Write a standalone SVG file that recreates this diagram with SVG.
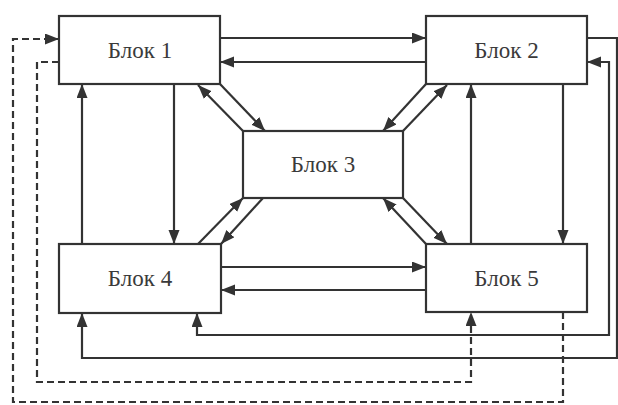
<svg xmlns="http://www.w3.org/2000/svg" width="618" height="405" viewBox="0 0 618 405">
<defs>
<marker id="ah" markerUnits="userSpaceOnUse" markerWidth="15" markerHeight="12" refX="14" refY="5.5" orient="auto-start-reverse">
<path d="M0,0 L14,5.5 L0,11 z" fill="#333"/>
</marker>
<style>
.box{fill:#fff;stroke:#333;stroke-width:2.2}
.lbl{font-family:"Liberation Serif","Times New Roman",serif;font-size:23px;fill:#3a3a3a;text-anchor:middle}
.c{fill:none;stroke:#333;stroke-width:2.2}
.a{marker-end:url(#ah)}
.s{marker-start:url(#ah)}
.d{stroke-dasharray:7,4}
</style>
</defs>
<rect width="618" height="405" fill="#fff"/>
<g id="connectors">
<path class="c a" d="M220,38 H426"/>
<path class="c a" d="M426,62 H220"/>
<path class="c a" d="M221,267 H426"/>
<path class="c a" d="M426,290 H221"/>
<path class="c a" d="M82,244 V84"/>
<path class="c a" d="M174,84 V244"/>
<path class="c a" d="M471,244 V84"/>
<path class="c a" d="M563,84 V244"/>
<path class="c a" d="M243,131 L198,85"/>
<path class="c a" d="M220,84 L265,131"/>
<path class="c a" d="M426,84 L383,131"/>
<path class="c a" d="M403,131 L447,85"/>
<path class="c a" d="M198,244 L243,198"/>
<path class="c a" d="M263,198 L221,244"/>
<path class="c a" d="M426,244 L383,198"/>
<path class="c a" d="M403,198 L447,244"/>
<path class="c a" d="M587,38 H617 V358 H82 V313"/>
<path class="c a s" d="M197,313 V335 H609 V62 H587"/>
<path class="c d a" d="M563,312 V402 H13 V39 H59"/>
<path class="c d a" d="M59,62 H37 V382 H471 V312"/>
</g>
<g id="block1"><rect class="box" x="59" y="16" width="161" height="68"/><text class="lbl" x="140" y="58">Блок 1</text></g>
<g id="block2"><rect class="box" x="426" y="16" width="161" height="68"/><text class="lbl" x="506.5" y="58">Блок 2</text></g>
<g id="block3"><rect class="box" x="243" y="131" width="160" height="67"/><text class="lbl" x="323" y="172">Блок 3</text></g>
<g id="block4"><rect class="box" x="59" y="244" width="162" height="69"/><text class="lbl" x="140" y="286">Блок 4</text></g>
<g id="block5"><rect class="box" x="426" y="244" width="161" height="68"/><text class="lbl" x="506.5" y="286">Блок 5</text></g>
</svg>
